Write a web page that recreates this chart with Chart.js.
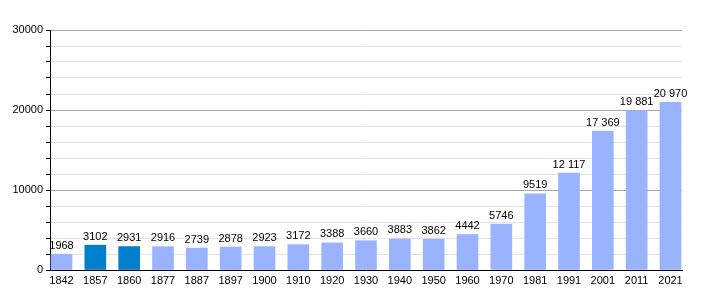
<!DOCTYPE html>
<html>
<head>
<meta charset="utf-8">
<script src="https://cdn.jsdelivr.net/npm/chart.js@4/dist/chart.umd.min.js"></script>
<style>
  html, body { margin: 0; padding: 0; background: #fff; }
  #wrap { width: 710px; height: 300px; }
</style>
</head>
<body>
<div id="wrap"><canvas id="chart" width="710" height="300"></canvas></div>
<script>
// data
const years = ["1842", "1857", "1860", "1877", "1887", "1897", "1900", "1910", "1920", "1930",
  "1940", "1950", "1960", "1970", "1981", "1991", "2001", "2011", "2021"];
const population = [1968, 3102, 2931, 2916, 2739, 2878, 2923, 3172, 3388, 3660,
  3883, 3862, 4442, 5746, 9519, 12117, 17369, 19881, 20970];
const highlighted = ["1857", "1860"];
const yTicks = [0, 10000, 20000, 30000];

function fmt(v) {
  const s = String(v);
  return v >= 10000 ? s.replace(/\B(?=(\d{3})+(?!\d))/g, " ") : s;
}

// value labels above bars
const valueLabels = {
  id: "valueLabels",
  afterDatasetsDraw(chart) {
    const ctx = chart.ctx;
    const meta = chart.getDatasetMeta(0);
    ctx.save();
    ctx.font = "11px 'Liberation Sans', Arial, sans-serif";
    ctx.fillStyle = "#000";
    ctx.textAlign = "center";
    ctx.textBaseline = "bottom";
    meta.data.forEach((bar, i) => {
      ctx.fillText(fmt(population[i]), bar.x, bar.y - 3);
    });
    ctx.restore();
  }
};

new Chart(document.getElementById("chart"), {
  type: "bar",
  data: {
    datasets: [{
      data: population.map((v, i) => ({ x: i, y: v })),
      backgroundColor: years.map(y => highlighted.includes(y) ? "#0080cc" : "#99b3ff"),
      barThickness: 21,
      borderWidth: 0
    }]
  },
  options: {
    responsive: false,
    animation: false,
    layout: { padding: { top: 30, right: 28, left: 0, bottom: 0 } },
    plugins: { legend: { display: false }, tooltip: { enabled: false } },
    scales: {
      x: {
        type: "linear",
        offset: false,
        min: -0.34,
        max: 18.34,
        afterBuildTicks: s => { s.ticks = years.map((_, i) => ({ value: i })); },
        afterFit: s => { s.height = 30; },
        grid: { display: false, drawTicks: false, offset: false },
        border: { color: "#000", width: 1 },
        ticks: {
          color: "#000",
          padding: 4,
          maxRotation: 0,
          autoSkip: false,
          font: { family: "'Liberation Sans', Arial, sans-serif", size: 11 },
          callback: v => years[v]
        }
      },
      y: {
        min: 0,
        max: 30000,
        afterFit: s => { s.width = 50; },
        afterBuildTicks: s => {
          const t = [];
          for (let v = 0; v <= 30000; v += 2000) t.push({ value: v });
          s.ticks = t;
        },
        border: { color: "#000", width: 1 },
        grid: {
          color: c => c.tick.value % 10000 === 0 ? "#a6a6a6" : "#e3e3e3",
          tickColor: "#000",
          tickLength: 4
        },
        ticks: {
          color: "#000",
          padding: 3,
          autoSkip: false,
          font: { family: "'Liberation Sans', Arial, sans-serif", size: 11 },
          callback: v => yTicks.includes(v) ? String(v) : ""
        }
      }
    }
  },
  plugins: [valueLabels]
});
</script>
</body>
</html>
